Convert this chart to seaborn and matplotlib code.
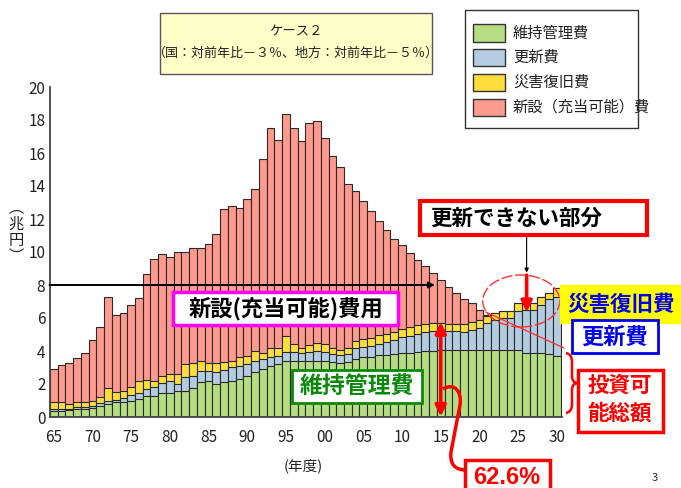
import numpy as np
import pandas as pd
import matplotlib.pyplot as plt
import matplotlib.patches as mpatches
from matplotlib.path import Path
import seaborn as sns

# fiscal years shown on the chart
years = list(range(1965, 2031))

# stacked heights (兆円), read off the picture as cumulative tops
# 維持管理費
iji = [0.38, 0.38, 0.40, 0.48, 0.50, 0.56, 0.69, 0.80, 0.89, 0.89,
       0.99, 1.09, 1.25, 1.28, 1.46, 1.46, 1.60, 1.60, 1.77, 2.10,
       2.17, 2.00, 2.10, 2.20, 2.30, 2.46, 2.71, 2.91, 3.11, 3.21,
       3.41, 3.41, 3.38, 3.38, 3.42, 3.42, 3.33, 3.29, 3.33, 3.53,
       3.64, 3.64, 3.74, 3.74, 3.80, 3.90, 3.90, 3.95, 4.00, 4.02,
       4.04, 4.05, 4.05, 4.05, 4.05, 4.05, 4.05, 4.05, 4.05, 4.05,
       4.05, 3.86, 3.86, 3.86, 3.82, 3.70]
# 維持管理費 + 更新費
koushin_top = [0.50, 0.50, 0.50, 0.58, 0.60, 0.66, 0.82, 0.95, 1.05, 1.13,
               1.33, 1.43, 1.70, 1.80, 2.07, 2.17, 1.99, 2.42, 2.50, 2.81,
               2.78, 2.71, 2.83, 3.01, 3.11, 3.21, 3.41, 3.52, 3.62, 3.72,
               3.92, 3.92, 3.88, 3.93, 3.97, 3.92, 3.83, 3.77, 3.83, 4.18,
               4.24, 4.31, 4.44, 4.55, 4.67, 4.85, 4.92, 5.05, 5.15, 5.20,
               5.22, 5.22, 5.22, 5.17, 5.27, 5.37, 5.68, 5.88, 5.98, 5.98,
               6.42, 6.48, 6.48, 6.79, 7.13, 7.29]
# + 災害復旧費
saigai_top = [0.89, 0.89, 0.80, 0.89, 0.90, 0.99, 1.19, 1.76, 1.49, 1.56,
              1.84, 2.20, 2.24, 2.17, 2.48, 2.60, 2.60, 3.20, 3.28, 3.40,
              3.26, 3.28, 3.31, 3.37, 3.62, 3.68, 3.98, 3.88, 4.18, 4.18,
              4.89, 4.42, 4.18, 4.38, 4.49, 4.44, 4.18, 4.09, 4.18, 4.58,
              4.74, 4.81, 4.94, 5.05, 5.17, 5.31, 5.45, 5.55, 5.62, 5.68,
              5.70, 5.64, 5.64, 5.64, 5.78, 5.88, 6.10, 6.28, 6.42, 6.42,
              6.89, 6.89, 6.89, 7.29, 7.54, 7.80]
# + 新設（充当可能）費 = total
total = [2.93, 3.15, 3.25, 3.60, 3.86, 4.69, 5.47, 7.29, 6.16, 6.28,
         6.77, 7.19, 8.65, 9.60, 9.88, 9.72, 10.02, 10.02, 10.22, 10.22,
         10.46, 11.07, 12.59, 12.79, 12.69, 13.21, 13.80, 15.64, 17.49, 16.79,
         18.34, 17.49, 16.71, 17.84, 17.94, 16.89, 15.84, 15.13, 14.10, 13.70,
         13.09, 12.48, 11.88, 11.33, 10.77, 10.44, 9.94, 9.52, 9.15, 8.71,
         8.30, 7.86, 7.49, 7.13, 6.89, 6.48, 6.20, 6.28, 6.42, 6.42,
         6.89, 6.89, 6.89, 7.29, 7.54, 7.80]

legend_labels = ['維持管理費', '更新費', '災害復旧費', '新設（充当可能）費']
c_green, c_blue, c_yellow, c_pink = '#B6DD82', '#B3CCE2', '#FFDD3C', '#FF9A8E'

df = pd.DataFrame({'year': years, 'iji': iji, 'koushin_top': koushin_top,
                   'saigai_top': saigai_top, 'total': total})

sns.set_style('white')
plt.rcParams['font.family'] = ['Noto Sans CJK JP', 'DejaVu Sans']

W, H = 681, 488
fig = plt.figure(figsize=(W / 100, H / 100), dpi=100)
ax = fig.add_axes([49.5 / W, (H - 417) / H, (562 - 49.5) / W, 330 / H])


def fxy(x, y):
    # pixel position in the picture -> figure fraction
    return (x / W, 1 - y / H)


# overlapping bars, tallest first, gives the stacked look
for col, color in [('total', c_pink), ('saigai_top', c_yellow),
                   ('koushin_top', c_blue), ('iji', c_green)]:
    sns.barplot(data=df, x='year', y=col, color=color, saturation=1,
                width=1.0, errorbar=None, edgecolor='#2a2a2a', linewidth=0.8, ax=ax)

ax.set_xlim(-0.55, 65.67)
ax.set_ylim(0, 20)
ax.set_xlabel('')
ax.set_ylabel('')
ax.set_yticks(range(0, 21, 2))
ax.set_xticks(range(0, 66, 5))
ax.set_xticklabels([f'{y % 100:02d}' for y in years[::5]])
ax.tick_params(axis='y', direction='in', length=7, width=1.4, pad=3,
               labelsize=11, color='#333333', labelcolor='#222222')
ax.tick_params(axis='x', direction='out', length=5.5, width=1, pad=3,
               labelsize=11, color='#333333', labelcolor='#222222')
for s in ['top', 'right']:
    ax.spines[s].set_visible(False)
for s in ['left', 'bottom']:
    ax.spines[s].set_color('#444444')
    ax.spines[s].set_linewidth(1.3)

# 8兆円 line with arrow
ax.annotate('', xy=(49.26, 8), xytext=(-0.55, 8),
            arrowprops=dict(arrowstyle='-|>', color='black', lw=1.4,
                            mutation_scale=9, shrinkA=0, shrinkB=0))
# 2015 double arrow
ax.annotate('', xy=(50, 5.75), xytext=(50, 0.03),
            arrowprops=dict(arrowstyle='<|-|>', color='red', lw=2.6,
                            mutation_scale=16, shrinkA=0, shrinkB=0))
# arrows from 更新できない部分
ax.annotate('', xy=(61.1, 8.75), xytext=(61.1, 11.03),
            arrowprops=dict(arrowstyle='-|>', color='black', lw=0.8,
                            mutation_scale=6, shrinkA=0, shrinkB=0))
ax.annotate('', xy=(61.1, 6.36), xytext=(61.1, 8.6),
            arrowprops=dict(arrowstyle='-|>', color='red', lw=2.6,
                            mutation_scale=16, shrinkA=0, shrinkB=0))
ax.add_patch(mpatches.Ellipse((60.4, 7.03), 9.95, 3.15, fill=False, ec='#ff3030',
                              lw=1, ls=(0, (8, 2)), clip_on=False, zorder=4))
ax.plot([55.85, 65.93], [6.36, 4.18], color='#ff3030', lw=0.9, clip_on=False, zorder=4)


def box(x0, y0, x1, y1, fc, ec, lw):
    r = mpatches.Rectangle(fxy(x0, y1), (x1 - x0) / W, (y1 - y0) / H,
                           transform=fig.transFigure, fc=fc, ec=ec, lw=lw, zorder=5)
    fig.add_artist(r)


def label(x, y, s, size, color='black', weight='bold', ha='center', **kw):
    fig.text(*fxy(x, y), s, fontsize=size, color=color, fontweight=weight,
             ha=ha, va='center', zorder=6, **kw)


# title box
box(160, 13, 432, 74, '#FFFFC8', '#555555', 1)
label(296, 31, 'ケース２', 9.6, color='#222222', weight='normal')
label(296, 53, '（国：対前年比－３％、地方：対前年比－５％）', 9.4,
      color='#222222', weight='normal')

# legend
box(465, 10, 638, 128, 'white', '#333333', 1)
for i, (lab, c) in enumerate(zip(legend_labels, [c_green, c_blue, c_yellow, c_pink])):
    yc = 33 + i * 24.7
    box(473, yc - 8.5, 505, yc + 8.5, c, '#333333', 1)
    label(513, yc, lab, 11, color='#222222', weight='normal', ha='left')

# axis titles
label(16, 232, '︵\n兆\n円\n︶', 11, color='#222222', weight='normal', linespacing=0.95)
label(303, 466, '(年度)', 10.5, color='#222222', weight='normal')

# callout boxes
box(173, 292, 398, 325, 'white', '#FF00FF', 2.5)
label(286, 308.5, '新設(充当可能)費用', 16)
box(292, 370, 422, 403, 'white', '#0A8A0A', 2)
label(357, 387, '維持管理費', 16.5, color='#0A8A0A')
box(420, 201, 647, 235, 'white', '#FF0000', 3)
label(516, 218, '更新できない部分', 15.5)
box(560, 285, 690, 323, '#FFFF00', '#FFFF00', 1)
label(567, 304, '災害復旧費', 15.5, color='#0000EE', ha='left')
box(572, 320, 658, 353, 'white', '#0000EE', 2)
label(615, 337, '更新費', 16, color='#0000EE')
box(578, 370, 663, 432, 'white', '#FF0000', 2.5)
label(620, 385, '投資可', 15.5, color='#FF0000')
label(620, 413, '能総額', 15.5, color='#FF0000')
box(465, 460, 550, 500, 'white', '#FF0000', 2.5)
label(507, 478, '62.6%', 17, color='#FF0000', family='Liberation Sans')
label(655, 478, '3', 8, color='#222222', weight='normal')

# red brace for 投資可能総額
brace = [(566, 353), (572, 354), (572, 362), (572, 376), (572, 383), (578, 383),
         (572, 383), (572, 390), (572, 404), (572, 412), (566, 413)]
codes = [Path.MOVETO, Path.CURVE3, Path.CURVE3, Path.LINETO, Path.CURVE3, Path.CURVE3,
         Path.CURVE3, Path.CURVE3, Path.LINETO, Path.CURVE3, Path.CURVE3]
fig.add_artist(mpatches.PathPatch(Path([fxy(*p) for p in brace], codes), fill=False,
                                  ec='#FF0000', lw=1.8, transform=fig.transFigure, zorder=6))

# red curve from the 2015 arrow to 62.6%
curve = [(443, 389), (455, 382), (462, 392), (460, 405), (451, 452), (449, 470), (466, 470)]
ccodes = [Path.MOVETO, Path.CURVE4, Path.CURVE4, Path.CURVE4, Path.LINETO, Path.CURVE3, Path.CURVE3]
fig.add_artist(mpatches.PathPatch(Path([fxy(*p) for p in curve], ccodes), fill=False,
                                  ec='#FF0000', lw=2.5, transform=fig.transFigure, zorder=6))

fig.savefig('out.png', dpi=100)
